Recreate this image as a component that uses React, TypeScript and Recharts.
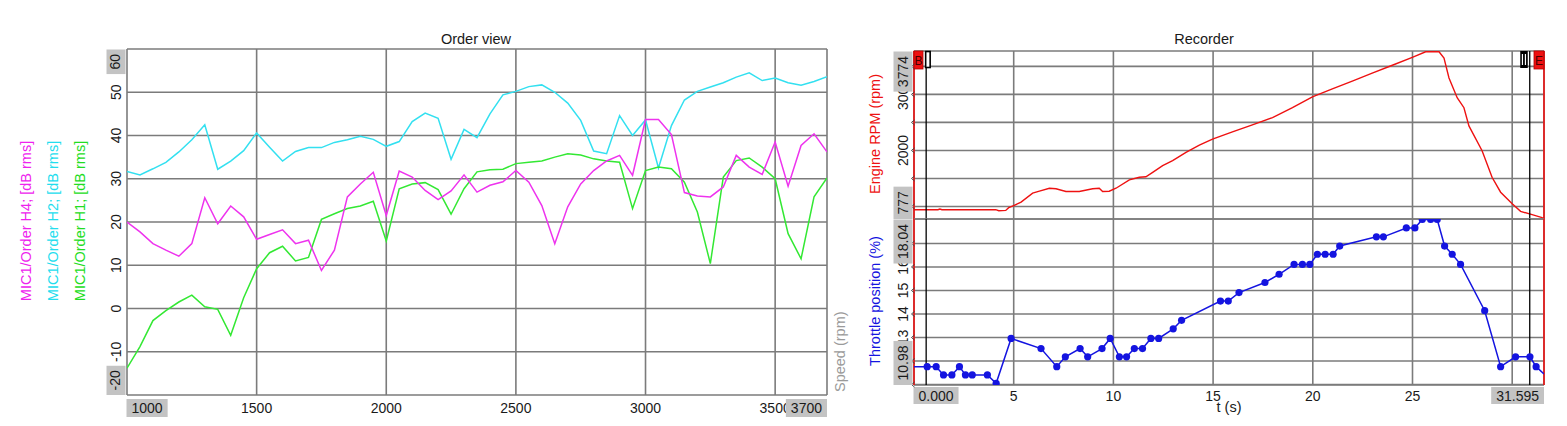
import React from 'react';
import { LineChart, Line, XAxis, YAxis, CartesianGrid, ReferenceLine } from 'recharts';

const FONT = '"Liberation Sans", Arial, Helvetica, sans-serif';
const TICK_FS = 14;
const LABEL_FS = 14.5;
const BOX_FILL = '#c3c3c3';
const GRID = '#7b7b7b';
const TEXT = '#1a1a1a';

// ---------- Order view ----------
const speedRpm = [1000, 1050, 1100, 1150, 1200, 1250, 1300, 1350, 1400, 1450, 1500, 1550, 1600, 1650, 1700, 1750, 1800, 1850, 1900, 1950, 2000, 2050, 2100, 2150, 2200, 2250, 2300, 2350, 2400, 2450, 2500, 2550, 2600, 2650, 2700, 2750, 2800, 2850, 2900, 2950, 3000, 3050, 3100, 3150, 3200, 3250, 3300, 3350, 3400, 3450, 3500, 3550, 3600, 3650, 3700];
const orderH4 = [20.0, 17.7, 15.0, 13.5, 12.1, 15.0, 25.6, 19.6, 23.7, 21.2, 16.0, 17.1, 18.2, 15.0, 15.8, 8.8, 13.5, 25.8, 28.8, 31.5, 21.5, 31.8, 30.4, 27.3, 25.2, 27.2, 30.9, 26.9, 28.5, 29.3, 31.9, 29.2, 23.8, 15.0, 23.5, 28.8, 31.9, 34.1, 35.4, 30.8, 43.7, 43.7, 40.2, 26.8, 26.0, 25.8, 28.1, 35.4, 32.7, 31.0, 38.5, 28.3, 37.7, 40.4, 36.2];
const orderH2 = [31.7, 30.9, 32.3, 33.8, 36.2, 39.0, 42.5, 32.2, 34.1, 36.5, 40.6, 37.3, 34.1, 36.3, 37.2, 37.2, 38.4, 39.0, 39.8, 39.1, 37.5, 38.6, 43.2, 45.2, 44.0, 34.5, 41.4, 39.5, 45.0, 49.4, 50.2, 51.3, 51.7, 50.0, 47.5, 43.5, 36.4, 35.8, 44.6, 40.0, 43.6, 32.5, 42.3, 48.2, 50.2, 51.2, 52.2, 53.5, 54.5, 52.7, 53.3, 52.2, 51.6, 52.5, 53.6];
const orderH1 = [-13.8, -8.8, -2.8, -0.5, 1.5, 3.1, 0.4, -0.2, -6.2, 2.5, 9.2, 12.9, 14.4, 11.0, 11.8, 20.6, 21.9, 23.1, 23.7, 24.8, 15.6, 27.7, 28.8, 29.1, 27.5, 21.8, 27.7, 31.6, 32.1, 32.2, 33.5, 33.8, 34.1, 35.0, 35.8, 35.5, 34.6, 34.1, 33.8, 23.1, 31.9, 32.7, 32.3, 29.2, 22.3, 10.4, 30.4, 34.2, 34.8, 32.7, 30.0, 17.3, 11.5, 25.8, 30.2];
const orderXDomain = [1000, 3700];
const orderYDomain = [-20, 60];
const orderXTicks = [1500, 2000, 2500, 3000, 3500, 1000, 3700];
const orderYTicks = [-10, 0, 10, 20, 30, 40, 50, -20, 60];
const orderSeriesLabels = ['MIC1/Order H4; [dB rms]', 'MIC1/Order H2; [dB rms]', 'MIC1/Order H1; [dB rms]'];

// ---------- Recorder ----------
const rpmTime = [0, 1.2, 1.3, 1.4, 4.1, 4.25, 4.6, 4.75, 5.03, 5.37, 5.95, 6.29, 6.79, 7.12, 7.62, 8.29, 8.96, 9.29, 9.46, 9.79, 10.13, 10.8, 11.3, 11.63, 11.97, 12.47, 12.97, 13.64, 14.31, 14.97, 15.97, 16.97, 17.98, 18.98, 19.98, 20.98, 21.98, 22.98, 23.99, 24.99, 25.66, 26.33, 26.58, 26.83, 27.24, 27.58, 27.83, 28.49, 28.99, 29.42, 30.0, 30.42, 31.0, 31.5, 31.595];
const engineRpm = [943, 943, 955, 943, 943, 925, 930, 979, 1020, 1078, 1238, 1273, 1326, 1316, 1268, 1268, 1316, 1326, 1268, 1273, 1326, 1475, 1521, 1530, 1610, 1729, 1817, 1965, 2095, 2202, 2332, 2456, 2585, 2762, 2957, 3099, 3236, 3378, 3520, 3661, 3760, 3760, 3649, 3294, 2940, 2762, 2438, 1995, 1521, 1255, 1050, 913, 855, 801, 795];
const throttleTime = [0, 0.66, 1.11, 1.48, 1.9, 2.28, 2.58, 2.92, 3.68, 4.12, 4.87, 6.37, 7.16, 7.59, 8.33, 8.71, 9.43, 9.84, 10.3, 10.66, 11.05, 11.46, 11.88, 12.27, 13.0, 13.42, 15.37, 15.76, 16.3, 17.6, 18.31, 19.06, 19.48, 19.85, 20.23, 20.62, 21.02, 21.35, 23.19, 23.54, 24.69, 25.12, 25.49, 25.91, 26.24, 26.61, 26.99, 27.41, 28.62, 29.42, 30.17, 30.89, 31.2, 31.595];
const throttlePct = [11.76, 11.76, 11.76, 11.41, 11.41, 11.76, 11.41, 11.41, 11.41, 11.05, 12.96, 12.53, 11.76, 12.18, 12.53, 12.18, 12.53, 12.96, 12.18, 12.18, 12.53, 12.53, 12.96, 12.96, 13.37, 13.73, 14.55, 14.55, 14.91, 15.34, 15.69, 16.11, 16.11, 16.11, 16.54, 16.54, 16.54, 16.89, 17.28, 17.28, 17.66, 17.66, 18.02, 18.02, 18.02, 16.89, 16.54, 16.11, 14.14, 11.76, 12.18, 12.18, 11.76, 11.45];
const timeDomain = [0, 31.595];
const rpmDomain = [777, 3774];
const throttleDomain = [10.98, 18.04];
const timeTicks = [5, 10, 15, 20, 25, 30, 0, 31.595];
const timeLabelled = [5, 10, 15, 20, 25];
const rpmTicks = [1000, 1500, 2000, 2500, 3000, 3500, 777, 3774];
const rpmLabelled = [2000, 3000];
const throttleTicks = [11, 12, 13, 14, 15, 16, 17, 10.98, 18.04];
const throttleLabelled = [12, 13, 14, 15, 16, 17];
const cursorTimes = [0.61, 30.88];

const orderData = speedRpm.map((rpm, i) => ({ rpm, h4: orderH4[i], h2: orderH2[i], h1: orderH1[i] }));
const rpmData = rpmTime.map((t, i) => ({ t, rpm: engineRpm[i] }));
const throttleData = throttleTime.map((t, i) => ({ t, pct: throttlePct[i] }));

const textW = (s: string, fs: number) =>
  [...s].reduce((a, c) => a + (c === '.' ? 0.278 : c === '-' ? 0.333 : 0.556), 0) * fs;

type YCfg = { min: number; max: number; show: (v: number) => boolean; diamonds: boolean; dx: number };
const makeYTick = (cfg: YCfg) => (props: any) => {
  const { x, y, payload } = props;
  const v = payload.value as number;
  const s = String(v);
  const cx = x + cfg.dx;
  if (v === cfg.min || v === cfg.max) {
    const h = textW(s, TICK_FS) + 9;
    const top = v === cfg.max ? y + 0.5 : y - h;
    const cy = top + h / 2;
    return (
      <g>
        <rect x={x - 20.5} y={top} width={19} height={h} fill={BOX_FILL} />
        <text x={cx} y={cy} transform={`rotate(-90 ${cx} ${cy})`} textAnchor="middle" dominantBaseline="central" fontSize={TICK_FS} fontFamily={FONT} fill={TEXT}>{s}</text>
      </g>
    );
  }
  return (
    <g>
      {cfg.diamonds && <path d={`M ${x + 0.5} ${y - 2.5} L ${x - 2.5} ${y} L ${x + 0.5} ${y + 2.5}`} fill="none" stroke="#444" strokeWidth={1} />}
      {cfg.show(v) && (
        <text x={cx} y={y} transform={`rotate(-90 ${cx} ${y})`} textAnchor="middle" dominantBaseline="central" fontSize={TICK_FS} fontFamily={FONT} fill={TEXT}>{s}</text>
      )}
    </g>
  );
};

type XCfg = { min: number; max: number; show: (v: number) => boolean; fmtBox: (v: number) => string; dy: number; boxTop: number; boxH: number };
const makeXTick = (cfg: XCfg) => (props: any) => {
  const { x, y, payload } = props;
  const v = payload.value as number;
  if (v === cfg.min || v === cfg.max) {
    const s = cfg.fmtBox(v);
    const w = textW(s, TICK_FS) + 10;
    const left = v === cfg.min ? x - 0.5 : x - w;
    return (
      <g>
        <rect x={left} y={y + cfg.boxTop} width={w} height={cfg.boxH} fill={BOX_FILL} />
        <text x={left + w / 2} y={y + cfg.boxTop + cfg.boxH / 2} textAnchor="middle" dominantBaseline="central" fontSize={TICK_FS} fontFamily={FONT} fill={TEXT}>{s}</text>
      </g>
    );
  }
  if (!cfg.show(v)) return <g />;
  return (
    <text x={x} y={y + cfg.dy} textAnchor="middle" dominantBaseline="central" fontSize={TICK_FS} fontFamily={FONT} fill={TEXT}>{String(v)}</text>
  );
};

const orderYTick = makeYTick({ min: orderYDomain[0], max: orderYDomain[1], show: () => true, diamonds: false, dx: -11.5 });
const orderXTick = makeXTick({ min: orderXDomain[0], max: orderXDomain[1], show: () => true, fmtBox: (v) => String(v), dy: 13, boxTop: 4, boxH: 18 });
const rpmYTick = makeYTick({ min: rpmDomain[0], max: rpmDomain[1], show: (v) => rpmLabelled.includes(v), diamonds: true, dx: -11 });
const throttleYTick = makeYTick({ min: throttleDomain[0], max: throttleDomain[1], show: (v) => throttleLabelled.includes(v), diamonds: true, dx: -11 });
const timeXTick = makeXTick({ min: timeDomain[0], max: timeDomain[1], show: (v) => timeLabelled.includes(v), fmtBox: (v) => v.toFixed(3), dy: 10.5, boxTop: 2, boxH: 17 });

const RED = '#ee1111';
const BLUE = '#1414e0';

const CursorMark = (props: any) => {
  const vb = props.viewBox || {};
  const x = vb.x ?? 0;
  const y = vb.y ?? 0;
  const kind = props.kind as string;
  if (kind === 'B') {
    return (
      <g>
        <rect x={x} y={y} width={9} height={18} fill={RED} stroke="#b00000" strokeWidth={0.8} />
        <text x={x + 4.5} y={y + 9.5} textAnchor="middle" dominantBaseline="central" fontSize={12} fontFamily={FONT} fill="#400">B</text>
      </g>
    );
  }
  if (kind === 'E') {
    return (
      <g>
        <rect x={x - 10} y={y} width={10} height={18} fill={RED} stroke="#b00000" strokeWidth={0.8} />
        <text x={x - 5} y={y + 9.5} textAnchor="middle" dominantBaseline="central" fontSize={12} fontFamily={FONT} fill="#400">E</text>
      </g>
    );
  }
  if (kind === 'I') {
    return (
      <g>
        <rect x={x - 0.5} y={y + 0.5} width={4.5} height={16} fill="#fff" stroke="#000" strokeWidth={1.6} />
      </g>
    );
  }
  return (
    <g>
      <rect x={x - 9.5} y={y} width={7.5} height={17} fill="#000" />
      <line x1={x - 7.3} x2={x - 7.3} y1={y + 3} y2={y + 14} stroke="#fff" strokeWidth={1.2} />
      <line x1={x - 4.3} x2={x - 4.3} y1={y + 3} y2={y + 14} stroke="#fff" strokeWidth={1.2} />
    </g>
  );
};

const throttleDot = (p: any) => {
  const last = throttleTime.length - 1;
  if (p.index === 0 || p.index === last) return <g key={`td${p.index}`} />;
  return <circle key={`td${p.index}`} cx={p.cx} cy={p.cy} r={3.6} fill={BLUE} stroke="none" />;
};

const rotLabel = (text: string, x: number, y: number, color: string, anchor: 'middle' | 'start' = 'middle') => (
  <text x={x} y={y} transform={`rotate(-90 ${x} ${y})`} textAnchor={anchor} dominantBaseline="central" fontSize={LABEL_FS} fontFamily={FONT} fill={color}>{text}</text>
);

export default function App() {
  return (
    <div style={{ position: 'absolute', left: 0, top: 0, width: 1567, height: 426, background: '#fff', overflow: 'hidden' }}>
      <svg width={1567} height={426} style={{ position: 'absolute', left: 0, top: 0 }}>
        <text x={476} y={44} textAnchor="middle" fontSize={LABEL_FS} fontFamily={FONT} fill={TEXT}>Order view</text>
        <text x={1204} y={44} textAnchor="middle" fontSize={LABEL_FS} fontFamily={FONT} fill={TEXT}>Recorder</text>
        {rotLabel(orderSeriesLabels[0], 26, 221, '#ee22ee')}
        {rotLabel(orderSeriesLabels[1], 53, 221, '#22ddee')}
        {rotLabel(orderSeriesLabels[2], 80, 221, '#22dd22')}
        {rotLabel('Speed (rpm)', 840, 392, '#9a9a9a', 'start')}
        {rotLabel('Engine RPM (rpm)', 875, 134, RED)}
        {rotLabel('Throttle position (%)', 875, 301, BLUE)}
        <text x={1229} y={412} textAnchor="middle" fontSize={LABEL_FS} fontFamily={FONT} fill={TEXT}>t (s)</text>
      </svg>

      <div style={{ position: 'absolute', left: 0, top: 0 }}>
        <LineChart width={860} height={426} data={orderData} margin={{ top: 49, right: 33, bottom: 1, left: 97 }}>
          <CartesianGrid stroke={GRID} strokeWidth={1.6} />
          <XAxis dataKey="rpm" type="number" domain={orderXDomain} allowDataOverflow ticks={orderXTicks} interval={0} tick={orderXTick} tickLine={false} axisLine={false} tickSize={0} tickMargin={0} height={30} />
          <YAxis type="number" domain={orderYDomain} allowDataOverflow ticks={orderYTicks} interval={0} tick={orderYTick} tickLine={false} axisLine={false} tickSize={0} tickMargin={0} width={30} />
          <Line dataKey="h2" stroke="#33e0f0" strokeWidth={1.5} dot={false} isAnimationActive={false} />
          <Line dataKey="h1" stroke="#33e833" strokeWidth={1.5} dot={false} isAnimationActive={false} />
          <Line dataKey="h4" stroke="#ee33ee" strokeWidth={1.5} dot={false} isAnimationActive={false} />
        </LineChart>
      </div>

      <div style={{ position: 'absolute', left: 850, top: 0 }}>
        <LineChart width={717} height={220} data={rpmData} margin={{ top: 51, right: 23, bottom: 1, left: 34 }}>
          <CartesianGrid stroke={GRID} strokeWidth={1.6} />
          <XAxis dataKey="t" type="number" domain={timeDomain} allowDataOverflow ticks={timeTicks} interval={0} hide />
          <YAxis type="number" domain={rpmDomain} allowDataOverflow ticks={rpmTicks} interval={0} tick={rpmYTick} tickLine={false} axisLine={false} tickSize={0} tickMargin={0} width={30} />
          <Line dataKey="rpm" stroke={RED} strokeWidth={1.4} dot={false} isAnimationActive={false} />
          <ReferenceLine x={cursorTimes[0]} stroke="#000" strokeWidth={1.3} label={(p: any) => <CursorMark {...p} kind="I" />} />
          <ReferenceLine x={cursorTimes[1]} stroke="#000" strokeWidth={1.3} label={(p: any) => <CursorMark {...p} kind="II" />} />
          <ReferenceLine x={timeDomain[0]} stroke={RED} strokeWidth={1.6} label={(p: any) => <CursorMark {...p} kind="B" />} />
          <ReferenceLine x={timeDomain[1]} stroke={RED} strokeWidth={1.6} label={(p: any) => <CursorMark {...p} kind="E" />} />
        </LineChart>
      </div>

      <div style={{ position: 'absolute', left: 850, top: 209 }}>
        <LineChart width={717} height={217} data={throttleData} margin={{ top: 10, right: 23, bottom: 11, left: 34 }}>
          <CartesianGrid stroke={GRID} strokeWidth={1.6} />
          <XAxis dataKey="t" type="number" domain={timeDomain} allowDataOverflow ticks={timeTicks} interval={0} tick={timeXTick} tickLine={false} axisLine={false} tickSize={0} tickMargin={0} height={30} />
          <YAxis type="number" domain={throttleDomain} allowDataOverflow ticks={throttleTicks} interval={0} tick={throttleYTick} tickLine={false} axisLine={false} tickSize={0} tickMargin={0} width={30} />
          <ReferenceLine x={cursorTimes[0]} stroke="#000" strokeWidth={1.3} />
          <ReferenceLine x={cursorTimes[1]} stroke="#000" strokeWidth={1.3} />
          <ReferenceLine x={timeDomain[0]} stroke={RED} strokeWidth={1.6} />
          <ReferenceLine x={timeDomain[1]} stroke={RED} strokeWidth={1.6} />
          <Line dataKey="pct" stroke={BLUE} strokeWidth={1.5} dot={throttleDot} isAnimationActive={false} />
        </LineChart>
      </div>
    </div>
  );
}
